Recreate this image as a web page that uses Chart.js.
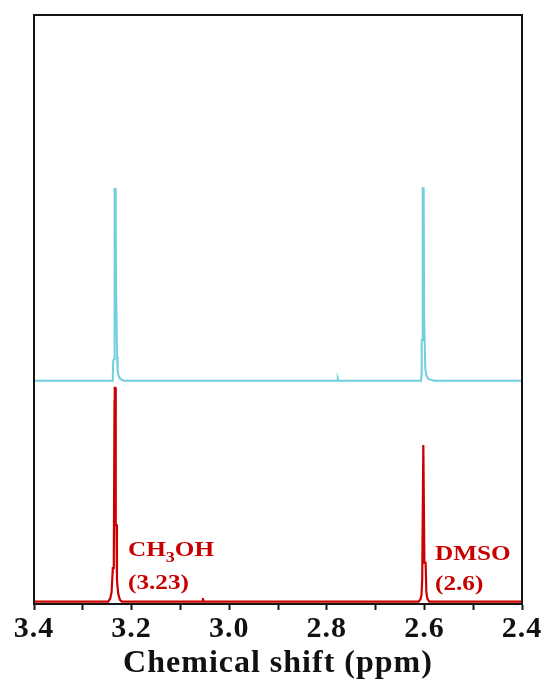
<!DOCTYPE html>
<html>
<head>
<meta charset="utf-8">
<script src="https://cdn.jsdelivr.net/npm/chart.js@4.4.0/dist/chart.umd.min.js"></script>
<style>
  html, body { margin: 0; padding: 0; background: #fff; }
  #wrap { width: 547px; height: 684px; }
</style>
</head>
<body>
<div id="wrap"><canvas id="nmr" width="547" height="684"></canvas></div>
<script>
// x axis range (ppm), drawn reversed
const shiftMin = 2.4;
const shiftMax = 3.4;

// upper (cyan) spectrum: chemical shift (ppm) and intensity (a.u.)
const cyanShift = [3.400, 3.2400, 3.2385, 3.2375, 3.2360, 3.2352, 3.2345, 3.2335, 3.2325, 3.2318, 3.2305, 3.2298, 3.2285, 3.2260, 3.2230, 3.2160,
  2.7790, 2.7775, 2.7760,
  2.6070, 2.6060, 2.6055, 2.6045, 2.6035, 2.6015, 2.6005, 2.5990, 2.5982, 2.5960, 2.5920, 2.5800, 2.400];
const cyanIntensity = [37.9, 37.9, 39.0, 41.4, 41.6, 64.7, 70.5, 70.5, 64.7, 54.2, 54.2, 42.0, 39.5, 38.6, 38.2, 37.9,
  37.9, 38.3, 37.9,
  37.9, 39.0, 44.8, 44.8, 70.6, 70.6, 48.7, 48.7, 40.0, 38.8, 38.2, 37.9, 37.9];

// lower (red) spectrum
const redShift = [3.400, 3.2480, 3.2440, 3.2410, 3.2385, 3.2365, 3.2350, 3.2345, 3.2335, 3.2325, 3.2310, 3.2300, 3.2275, 3.2240, 3.2200,
  3.0545, 3.0537, 3.0530,
  2.6120, 2.6080, 2.6060, 2.6045, 2.6030, 2.6022, 2.6010, 2.6000, 2.5975, 2.5960, 2.5940, 2.5900, 2.400];
const redIntensity = [0.4, 0.4, 0.9, 2.0, 6.1, 6.1, 34.5, 36.7, 36.7, 13.4, 13.4, 4.0, 1.8, 0.7, 0.4,
  0.4, 1.0, 0.4,
  0.4, 0.8, 1.5, 4.1, 4.1, 27.0, 27.0, 7.0, 7.0, 2.0, 0.9, 0.4, 0.4];

// peak labels, anchored at (ppm, intensity)
const peakNames = [['CH', '3', 'OH'], ['DMSO', '', '']];
const peakValues = ['(3.23)', '(2.6)'];
const labelShift = [3.2074, 2.5783];
const labelLine1 = [8.15, 7.47];
const labelLine2 = [2.55, 2.38];

const toPoints = (xs, ys) => xs.map((x, i) => ({ x: x, y: ys[i] }));
const serif = '"Liberation Serif", "Times New Roman", serif';

// widen axis text a little, like the original figure
const spacingPlugin = {
  id: 'spacing',
  beforeDraw(chart) { chart.ctx.letterSpacing = '1px'; },
  afterDraw(chart) { chart.ctx.letterSpacing = '0px'; }
};

// draws the frame, minor ticks and the peak labels
const framePlugin = {
  id: 'frame',
  afterDraw(chart) {
    const ctx = chart.ctx;
    const a = chart.chartArea;
    const xs = chart.scales.x;
    const ys = chart.scales.y;
    ctx.save();
    ctx.letterSpacing = '0px';
    ctx.strokeStyle = '#151515';
    ctx.lineWidth = 2;
    ctx.strokeRect(a.left, a.top, a.right - a.left, a.bottom - a.top);

    const stretch = 1.2;
    ctx.fillStyle = '#c80000';
    ctx.textBaseline = 'alphabetic';
    ctx.textAlign = 'left';
    peakNames.forEach((parts, i) => {
      const px = xs.getPixelForValue(labelShift[i]);
      const py1 = ys.getPixelForValue(labelLine1[i]);
      const py2 = ys.getPixelForValue(labelLine2[i]);
      ctx.save();
      ctx.translate(px, py1);
      ctx.scale(stretch, 1);
      ctx.font = 'bold 21px ' + serif;
      ctx.fillText(parts[0], 0, 0);
      let w = ctx.measureText(parts[0]).width;
      if (parts[1]) {
        ctx.font = 'bold 15px ' + serif;
        ctx.fillText(parts[1], w, 6);
        w += ctx.measureText(parts[1]).width;
        ctx.font = 'bold 21px ' + serif;
        ctx.fillText(parts[2], w, 0);
      }
      ctx.restore();
      ctx.save();
      ctx.translate(px, py2);
      ctx.scale(stretch, 1);
      ctx.font = 'bold 21px ' + serif;
      ctx.fillText(peakValues[i], 0, 0);
      ctx.restore();
    });
    ctx.restore();
  }
};

const ctx = document.getElementById('nmr').getContext('2d');
new Chart(ctx, {
  type: 'line',
  data: {
    datasets: [
      {
        label: 'upper',
        data: toPoints(cyanShift, cyanIntensity),
        borderColor: 'rgb(112, 206, 221)',
        borderWidth: 2,
        pointRadius: 0,
        tension: 0,
        fill: false
      },
      {
        label: 'lower',
        data: toPoints(redShift, redIntensity),
        borderColor: 'rgb(204, 0, 0)',
        borderWidth: 2.2,
        pointRadius: 0,
        tension: 0,
        fill: false
      }
    ]
  },
  options: {
    responsive: false,
    animation: false,
    layout: { padding: { left: 34, right: 25, top: 15, bottom: 0 } },
    plugins: {
      legend: { display: false },
      tooltip: { enabled: false }
    },
    scales: {
      x: {
        type: 'linear',
        reverse: true,
        min: shiftMin,
        max: shiftMax,
        afterFit: s => { s.height = 80; },
        border: { display: true, color: '#151515', width: 2 },
        grid: {
          drawOnChartArea: false,
          drawTicks: true,
          tickLength: 6,
          tickWidth: 2,
          tickColor: '#151515'
        },
        ticks: {
          stepSize: 0.1,
          autoSkip: false,
          maxRotation: 0,
          padding: 1,
          color: '#111',
          font: { family: serif, size: 30, weight: 'bold' },
          callback: v => (Math.round(v * 10) % 2 === 0 ? v.toFixed(1) : '')
        },
        title: {
          display: true,
          text: 'Chemical shift (ppm)',
          color: '#111',
          padding: { top: 0, bottom: 1 },
          font: { family: serif, size: 32, weight: 'bold' }
        }
      },
      y: {
        display: false,
        min: 0,
        max: 100
      }
    }
  },
  plugins: [spacingPlugin, framePlugin]
});
</script>
</body>
</html>
